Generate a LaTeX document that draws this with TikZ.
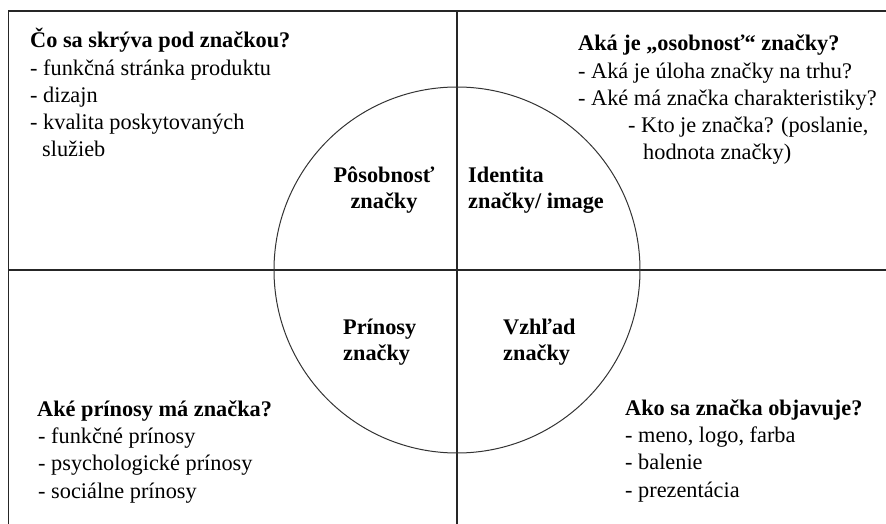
\documentclass[tikz,border=0pt]{standalone}
\usepackage{fontspec}
\setmainfont{Liberation Serif}
\usetikzlibrary{positioning}

\begin{document}
\begin{tikzpicture}[x=1pt, y=-1pt,
		frame/.style={line width=1.4pt, draw=black!85},
		ring/.style={line width=1pt, draw=black!80},
		block/.style={anchor=base west, align=left, inner sep=0pt,
			font=\fontsize{22.3}{27.3}\selectfont},
		core/.style={inner sep=0pt, font=\fontsize{22.3}{25.5}\selectfont\bfseries}]

	\useasboundingbox (0,0) rectangle (886,524);

	% cross and frame
	\coordinate (tl) at (8.5,11);
	\coordinate (tr) at (886,11);
	\coordinate (bl) at (8.5,524);
	\coordinate (ml) at (8.5,270);
	\coordinate (mr) at (886,270);
	\coordinate (mt) at (457,11);
	\coordinate (mb) at (457,524);
	\coordinate (c) at (457,270);

	\draw[frame] (tr) -- (tl) -- (bl);
	\draw[frame] (ml) -- (mr);
	\draw[frame] (mt) -- (mb);
	\draw[ring] (c) circle (183pt);

	% inside the circle (placed by the baseline of the last line)
	\node[core, anchor=base, align=center] (posobnost) at (384,208) {Pôsobnosť\\značky};
	\node[core, anchor=base west, align=left] (identita) at (468,208) {Identita\\značky/ image};
	\node[core, anchor=base west, align=left] (prinosy) at (343,360) {Prínosy\\značky};
	\node[core, anchor=base west, align=left] (vzhlad) at (503,360) {Vzhľad\\značky};

	% questions in the corners
	\node[block] (skryva) at (30,157) {\textbf{Čo sa skrýva pod značkou?}\\
		- funkčná stránka produktu\\
		- dizajn\\
		- kvalita poskytovaných\\
		\hspace*{12pt}služieb};

	\node[block] (osobnost) at (578,160) {\textbf{Aká je „osobnosť“ značky?}\\
		- Aká je úloha značky na trhu?\\
		- Aké má značka charakteristiky?\\
		\hspace*{50pt}- Kto je značka? (poslanie,\\
		\hspace*{65pt}hodnota značky)};

	\node[block] (aprinosy) at (37,498) {\textbf{Aké prínosy má značka?}\\
		\hspace*{1pt}- funkčné prínosy\\
		\hspace*{1pt}- psychologické prínosy\\
		\hspace*{1pt}- sociálne prínosy};

	\node[block] (objavuje) at (625,497) {\textbf{Ako sa značka objavuje?}\\
		- meno, logo, farba\\
		- balenie\\
		- prezentácia};
\end{tikzpicture}
\end{document}
